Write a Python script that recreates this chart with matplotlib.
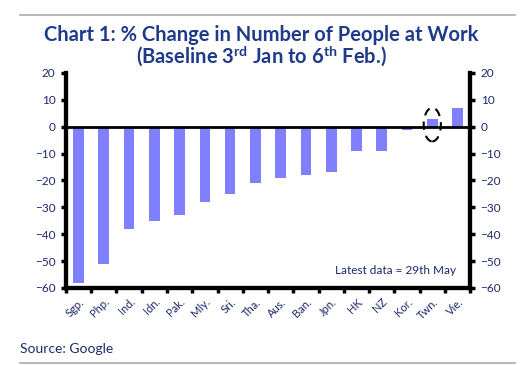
import matplotlib
matplotlib.use("Agg")
import numpy as np
import matplotlib.pyplot as plt
from matplotlib.patches import Ellipse
from matplotlib.lines import Line2D

countries = ['Sgp.', 'Php.', 'Ind.', 'Idn.', 'Pak.', 'Mly.', 'Sri.', 'Tha.',
             'Aus.', 'Ban.', 'Jpn.', 'HK', 'NZ', 'Kor.', 'Twn.', 'Vie.']
change = [-58, -51, -38, -35, -33, -28, -25, -21,
          -19, -18, -17, -9, -9, -1.2, 3, 7]
yticks = [20, 10, 0, -10, -20, -30, -40, -50, -60]

navy = '#1b2a6b'
plt.rcParams['font.family'] = ['Lato', 'DejaVu Sans']
plt.rcParams['mathtext.fontset'] = 'custom'
plt.rcParams['mathtext.bf'] = 'Lato:bold'
plt.rcParams['mathtext.rm'] = 'Lato'

fig = plt.figure(figsize=(5.23, 3.65), dpi=100)
ax = fig.add_axes([0.126, 0.211, 0.773, 0.589])

x = np.arange(len(countries))
ax.bar(x, change, width=0.42, color='#8080ff', zorder=2)
ax.axhline(0, color='black', lw=2.0, zorder=3)

ax.set_xlim(-0.5, len(countries) - 0.5)
ax.set_ylim(-60, 20)
ax.set_yticks(yticks)
ax.tick_params(axis='y', direction='out', length=3.5, width=2.5, colors='black',
               labelcolor=navy, labelsize=8.5, pad=4)
ax.set_xticks(x)
ax.set_xticklabels(countries, rotation=45, ha='right', rotation_mode='anchor',
                   color=navy, fontsize=8)
ax.tick_params(axis='x', which='major', length=0, pad=6)
ax.set_xticks(np.arange(-0.5, len(countries)), minor=True)
ax.tick_params(axis='x', which='minor', direction='out', length=3.5, width=2.5)

# same scale on the right side
ax2 = ax.twinx()
ax2.set_ylim(-60, 20)
ax2.set_yticks(yticks)
ax2.tick_params(axis='y', direction='out', length=3.5, width=2.5,
                labelcolor=navy, labelsize=8.5, pad=4)
for a in (ax, ax2):
    a.spines['top'].set_visible(False)
    for s in ['left', 'right', 'bottom']:
        a.spines[s].set_linewidth(3.0)
        a.spines[s].set_color('black')

# dashed ring around Taiwan
ell = Ellipse((14, 0.8), width=0.68, height=12.5, fill=False, ec='black',
              lw=1.5, ls=(0, (4, 3)), zorder=4)
ax.add_patch(ell)

ax.text(0.965, 0.08, 'Latest data = 29th May', transform=ax.transAxes,
        ha='right', va='center', fontsize=8.5, color=navy)

fig.text(0.5, 0.905, 'Chart 1: % Change in Number of People at Work',
         ha='center', va='center', fontsize=14.5, fontweight='bold', color='#1f3a8a')
fig.text(0.5, 0.845, r'(Baseline 3$^{\mathbf{rd}}$ Jan to 6$^{\mathbf{th}}$ Feb.)',
         ha='center', va='center', fontsize=14.5, fontweight='bold', color='#1f3a8a')
fig.text(0.038, 0.044, 'Source: Google', ha='left', va='center',
         fontsize=10, color=navy)

fig.add_artist(Line2D([0.038, 0.985], [0.959, 0.959], color='#aaaaaa', lw=1.2))
fig.add_artist(Line2D([0.038, 0.985], [0.006, 0.006], color='#aaaaaa', lw=1.2))

fig.savefig('out.png', dpi=100)
